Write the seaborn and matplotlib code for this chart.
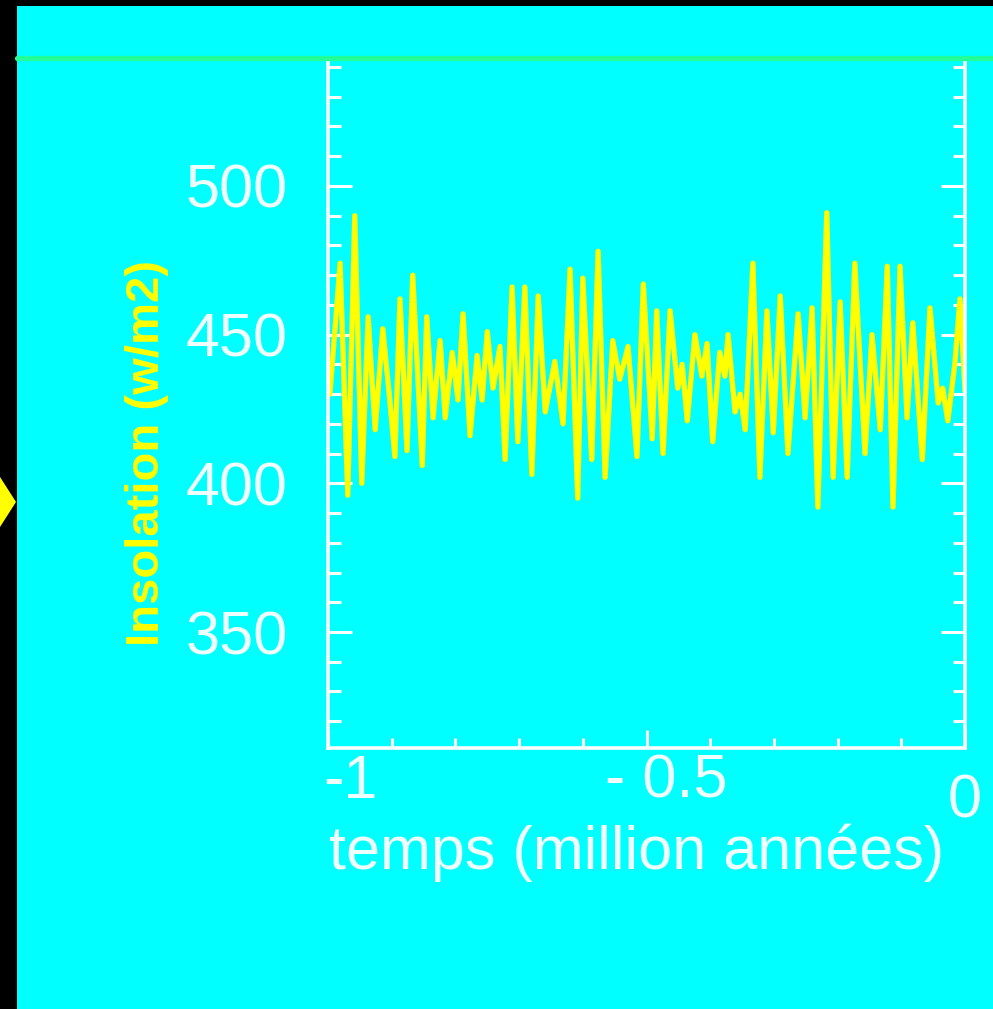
import numpy as np
import pandas as pd
import matplotlib
matplotlib.use('Agg')
import matplotlib.pyplot as plt
import matplotlib.transforms as mtransforms
from matplotlib.lines import Line2D
from matplotlib.patches import Rectangle, Polygon
from matplotlib.ticker import MultipleLocator
import seaborn as sns

# temps en milliers d'années
temps_ka = [-997, -981, -969, -958, -947, -937, -926, -914, -903, -895,
            -887, -876, -867, -852, -845, -835, -824, -816, -805, -796,
            -788, -777, -766, -758, -750, -741, -730, -722, -711, -702,
            -691, -680, -670, -659, -644, -631, -620, -608, -600, -586,
            -576, -565, -553, -542, -529, -515, -505, -491, -484, -474,
            -463, -451, -444, -436, -424, -413, -405, -396, -385, -377,
            -372, -361, -353, -345, -333, -322, -311, -301, -290, -278,
            -262, -251, -240, -231, -217, -207, -196, -185, -173, -157,
            -146, -133, -122, -113, -102, -91, -82, -67, -55, -42,
            -35, -27, -16, -8, 0]

# insolation (w/m2)
insolation = [430, 474, 396, 490, 400, 456, 418, 452, 428, 409,
              462, 411, 470, 406, 456, 422, 448, 422, 444, 428,
              457, 416, 443, 428, 451, 432, 446, 408, 466, 414,
              466, 403, 463, 424, 441, 420, 472, 395, 469, 408,
              478, 402, 448, 435, 446, 409, 467, 415, 458, 410,
              458, 432, 440, 421, 450, 436, 447, 414, 444, 436,
              450, 424, 430, 418, 474, 402, 458, 417, 463, 410,
              457, 422, 459, 392, 491, 402, 461, 402, 474, 410,
              450, 418, 473, 392, 473, 422, 454, 408, 459, 427,
              432, 421, 440, 462, 431]

y_ticks = [350, 400, 450, 500]
x_ticks = [-1, -0.5, 0]
x_tick_labels = ['-1', '- 0.5', '0']

df = pd.DataFrame({'temps': np.array(temps_ka) / 1000.0, 'insolation': insolation})

cyan = '#00ffff'
txt_col = '#eefffe'

sns.set_theme(style='ticks')
plt.rcParams['font.family'] = ['Liberation Sans', 'DejaVu Sans']

fig = plt.figure(figsize=(9.93, 10.09), dpi=100, facecolor='black')
fig.add_artist(Rectangle((17 / 993, 0), 1 - 17 / 993, 1 - 6 / 1009,
                         transform=fig.transFigure, facecolor=cyan,
                         edgecolor='none', zorder=0))
fig.add_artist(Line2D([17 / 993, 1], [1 - 58 / 1009, 1 - 58 / 1009],
                      transform=fig.transFigure, color='#22ff99', lw=3.8))
fig.add_artist(Polygon([(-16 / 993, 0.5025), (0, 0.5273), (16 / 993, 0.5025), (0, 0.4777)],
                       closed=True, transform=fig.transFigure,
                       facecolor='#ffff00', edgecolor='none'))

ax = fig.add_axes([328 / 993, 1 - 748 / 1009, (965 - 328) / 993, (748 - 61) / 1009])
ax.set_facecolor(cyan)

sns.lineplot(data=df, x='temps', y='insolation', ax=ax, color='#ffff00',
             lw=3.8, estimator=None, sort=False)

ax.set_xlim(-1, 0)
ax.set_ylim(311, 542)

for side in ['left', 'bottom', 'right']:
    ax.spines[side].set_color('white')
    ax.spines[side].set_linewidth(2.6)
ax.spines['top'].set_visible(False)

ax.set_yticks(y_ticks)
ax.set_yticklabels([str(v) for v in y_ticks])
ax.yaxis.set_minor_locator(MultipleLocator(10))
ax.set_xticks(x_ticks)
ax.set_xticklabels(x_tick_labels)
ax.xaxis.set_minor_locator(MultipleLocator(0.1))

ax.tick_params(axis='y', which='both', direction='in', left=True, right=True,
               color='white', width=2.2)
ax.tick_params(axis='y', which='major', length=17, pad=29, labelsize=44,
               labelcolor=txt_col)
ax.tick_params(axis='y', which='minor', length=9)
ax.tick_params(axis='x', which='both', direction='in', bottom=True, top=False,
               color='white', width=2.2)
ax.tick_params(axis='x', which='major', length=13, pad=4, labelsize=44,
               labelcolor=txt_col)
ax.tick_params(axis='x', which='minor', length=7)

# petits decalages des etiquettes comme sur la diapo
offsets = [(22, 0), (20, 0), (0, -20)]
for lab, (dx, dy) in zip(ax.get_xticklabels(), offsets):
    lab.set_transform(lab.get_transform() +
                      mtransforms.ScaledTranslation(dx / 100, dy / 100, fig.dpi_scale_trans))

ax.set_xlabel('temps (million années)', fontsize=44, color=txt_col)
ax.xaxis.set_label_coords(0.484, -0.11)
ax.set_ylabel('Insolation (w/m2)', fontsize=34, fontweight='bold', color='#ffff00')
ax.yaxis.set_label_coords(-0.25, 0.43)

fig.savefig('out.png', dpi=100, facecolor=fig.get_facecolor())
